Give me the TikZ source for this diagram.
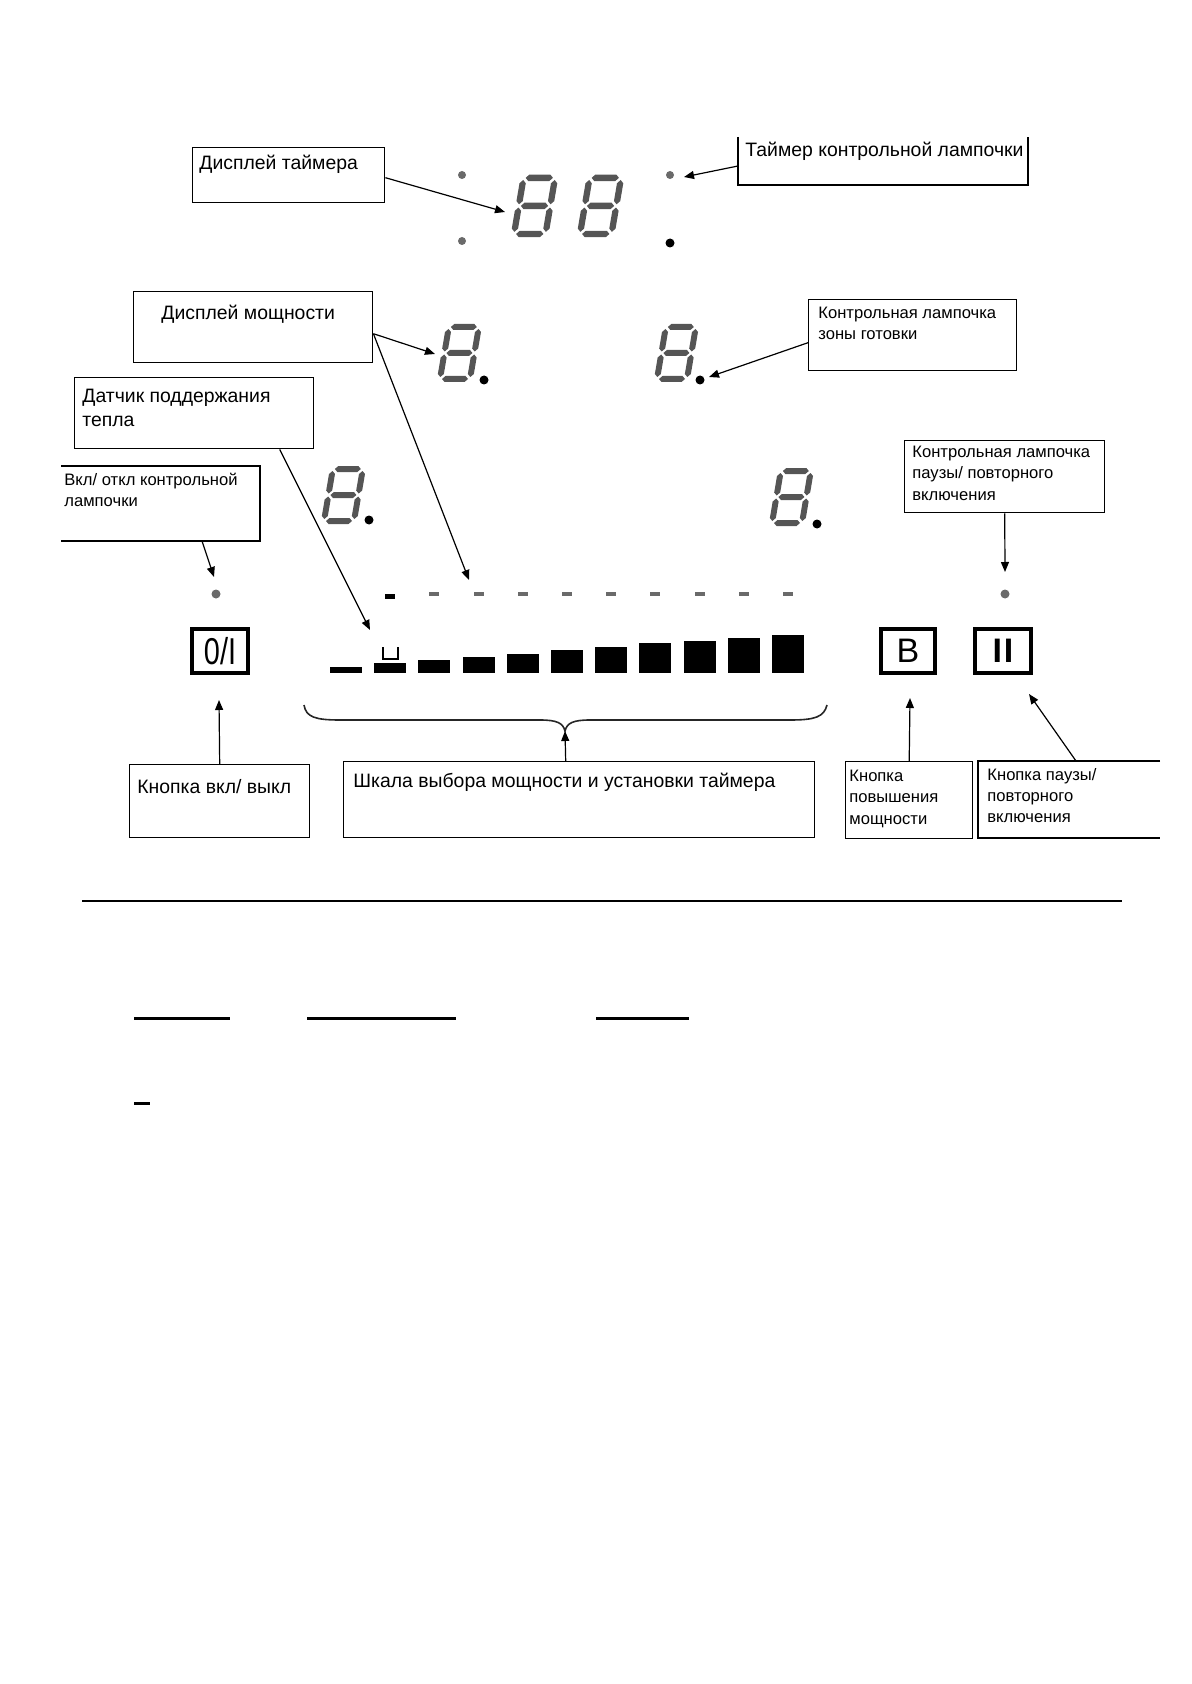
\documentclass[tikz,border=0pt]{standalone}
\usepackage{fontspec}
\setmainfont{Liberation Sans}
\usetikzlibrary{arrows.meta}
\definecolor{segc}{HTML}{555555}
\definecolor{dotg}{HTML}{6A6A6A}
\definecolor{dashg}{HTML}{6A6A6A}
\newcommand\hsegm[3]{\fill (#1,#3) -- ({#1+3},{#3-3}) -- ({#2-3},{#3-3}) -- (#2,#3) -- ({#2-3},{#3+3}) -- ({#1+3},{#3+3}) -- cycle;}
\newcommand\vsegm[3]{\fill (#1,#2) -- ({#1+3},{#2+3}) -- ({#1+3},{#3-3}) -- (#1,#3) -- ({#1-3},{#3-3}) -- ({#1-3},{#2+3}) -- cycle;}
\newcommand\segdig[4]{%
  \begin{scope}[shift={(#1,#2)},xslant=0.17,xscale=#3,yscale=#4,seg]
    \hsegm{2}{28}{-52}
    \vsegm{30}{-50}{-27.5}
    \vsegm{30}{-24.5}{-2}
    \hsegm{2}{28}{0}
    \vsegm{0}{-24.5}{-2}
    \vsegm{0}{-50}{-27.5}
    \hsegm{2}{28}{-26}
  \end{scope}}
\begin{document}
\begin{tikzpicture}[x=0.5pt,y=-0.5pt,
  bx/.style={draw,line width=0.7pt,inner sep=0pt,anchor=north west},
  openbox/.style={line width=0.7pt},
  btn/.style={draw,line width=1.6pt,inner sep=0pt,font=\fontsize{17}{17}\selectfont},
  arr/.style={line width=0.6pt,-{Triangle[length=5pt,width=4pt]}},
  lbl/.style={anchor=base west,inner sep=0pt,font=\fontsize{9.7}{12}\selectfont},
  lbls/.style={anchor=base west,inner sep=0pt,font=\fontsize{8.3}{10}\selectfont},
  seg/.style={fill=segc},
  gdot/.style={fill=dotg,draw=none},
  bdot/.style={fill=black,draw=none},
  bar/.style={fill=black,draw=none},
  ]
\useasboundingbox (0,0) rectangle (1191,1684);

% ---------- seven-segment digits ----------
\segdig{514}{234}{1.05}{1.08}
\segdig{580}{234}{1.05}{1.08}
\segdig{440}{379}{1.0}{1.0}
\segdig{657}{379}{1.0}{1.0}
\segdig{324}{521}{1.0}{1.0}
\segdig{772}{523}{1.0}{1.0}

% dots
\fill[gdot] (462,175) circle (4);
\fill[gdot] (462,241) circle (4);
\fill[gdot] (670,175) circle (4);
\fill[bdot] (670,243) circle (4.5);
\fill[bdot] (484,380) circle (4.5);
\fill[bdot] (700,380) circle (4.5);
\fill[bdot] (369,520) circle (4.5);
\fill[bdot] (817,524) circle (4.5);
\fill[gdot] (216,594) circle (4.5);
\fill[gdot] (1005,594) circle (4.5);

% dash row
\fill[black] (385,594) rectangle (395,599);
\foreach \i in {2,...,10} {
  \fill[dashg] ({346+44.2*\i-5},592) rectangle ({346+44.2*\i+5},596);
}

% power bars
\foreach \i/\h in {0/6,1/10,2/13,3/16.5,4/19.5,5/23,6/26.5,7/30,8/32.5,9/35.5,10/38.5} {
  \fill[bar] ({330+44.2*\i},673) rectangle ({362+44.2*\i},{673-\h});
}
\draw[line width=1pt] (383,647) -- (383,659) -- (398,659) -- (398,647);

% buttons
\node[btn,minimum width=28pt,minimum height=22pt] (bOI) at (220,651) {\scalebox{0.85}[1.1]{0/I}};
\node[btn,minimum width=27pt,minimum height=22pt] (bB) at (908,651) {B};
\node[btn,minimum width=28pt,minimum height=22pt] (bII) at (1003,651) {\textbf{I\kern1ptI}};

% brace
\draw[line width=0.8pt,draw=black!85] (304,705) .. controls (306,717) and (315,720) .. (340,720)
  -- (540,720) .. controls (557,720) and (563,723) .. (565,731)
  .. controls (567,723) and (573,720) .. (590,720) -- (790,720)
  .. controls (815,720) and (824,717) .. (827,705);

% ---------- labels ----------
% timer display
\node[bx,minimum width=96pt,minimum height=27.5pt] (bTD) at (192,147) {};
\node[lbl] (tTD) at (199,170) {Дисплей таймера};
\coordinate (dTD) at (505,212);
\draw[arr] ([yshift=-1.25pt]bTD.east) -- (dTD);

% timer lamp (open top)
\draw[openbox] (738,137) -- (738,185) -- (1028,185) -- (1028,137);
\coordinate (bTL) at (738,166);
\node[lbl] (tTL) at (745,157) {Таймер контрольной лампочки};
\coordinate (dTL) at (684,177);
\draw[arr] (bTL) -- (dTL);

% power display
\node[bx,minimum width=119.5pt,minimum height=35.5pt] (bPD) at (133,291) {};
\node[lbl] (tPD) at (161,320) {Дисплей мощности};
\coordinate (dPD1) at (435,354);
\coordinate (dPD2) at (469,580);
\draw[arr] ([yshift=-3.25pt]bPD.east) -- (dPD1);
\draw[arr] ([yshift=-3.25pt]bPD.east) -- (dPD2);

% zone lamp
\node[bx,minimum width=104pt,minimum height=35.5pt] (bZL) at (808,299) {};
\node[lbls] (tZL1) at (818,319) {Контрольная лампочка};
\node[lbls] (tZL2) at (818,340) {зоны готовки};
\coordinate (dZL) at (709,377);
\draw[arr] ([yshift=-3.75pt]bZL.west) -- (dZL);

% keep-warm sensor
\node[bx,minimum width=119.5pt,minimum height=35.5pt] (bDS) at (74,377) {};
\node[lbl] (tDS1) at (82,403) {Датчик поддержания};
\node[lbl] (tDS2) at (82,427) {тепла};
\coordinate (dDS) at (370,630);
\draw[arr] ([xshift=42.75pt]bDS.south) -- (dDS);

% on/off lamp (open left)
\draw[openbox] (61,466) -- (260,466) -- (260,541) -- (61,541);
\node[lbls] (tOL1) at (64,485) {Вкл/ откл контрольной};
\node[lbls] (tOL2) at (64,506) {лампочки};
\coordinate (bOL) at (202,541);
\coordinate (dOL) at (214,577);
\draw[arr] (bOL) -- (dOL);

% pause lamp
\node[bx,minimum width=100pt,minimum height=36pt] (bPL) at (904,440) {};
\node[lbls] (tPL1) at (912,458) {Контрольная лампочка};
\node[lbls] (tPL2) at (912,479) {паузы/ повторного};
\node[lbls] (tPL3) at (912,500) {включения};
\coordinate (dPL) at (1005,572);
\draw[arr] (bPL.south) -- (dPL);

% on/off button label
\node[bx,minimum width=90pt,minimum height=36.5pt] (bOn) at (129,764) {};
\node[lbl] (tOn) at (137,793) {Кнопка вкл/ выкл};
\coordinate (dOn) at (219,700);
\draw[arr] (bOn.north) -- (dOn);

% scale label
\node[bx,minimum width=235.5pt,minimum height=38pt] (bSc) at (343,761) {};
\node[lbl] (tSc) at (353,787) {Шкала выбора мощности и установки таймера};
\coordinate (dSc) at (565,731);
\draw[arr] ([xshift=-6.75pt]bSc.north) -- (dSc);

% boost button label
\node[bx,minimum width=63.5pt,minimum height=38.5pt] (bBo) at (845,761) {};
\node[lbls] (tBo1) at (849,781) {Кнопка};
\node[lbls] (tBo2) at (849,802) {повышения};
\node[lbls] (tBo3) at (849,824) {мощности};
\coordinate (dBo) at (910,698);
\draw[arr] (bBo.north) -- (dBo);

% pause button label (open right)
\draw[openbox] (1160,761) -- (978,761) -- (978,838) -- (1160,838);
\node[lbls] (tPB1) at (987,780) {Кнопка паузы/};
\node[lbls] (tPB2) at (987,801) {повторного};
\node[lbls] (tPB3) at (987,822) {включения};
\coordinate (bPB) at (1076,761);
\coordinate (dPB) at (1029,694);
\draw[arr] (bPB) -- (dPB);

% ---------- lower part ----------
\draw[line width=0.75pt] (82,901) -- (1122,901);
\draw[line width=1.5pt] (134,1018) -- (230,1018);
\draw[line width=1.5pt] (307,1018) -- (456,1018);
\draw[line width=1.5pt] (596,1018) -- (689,1018);
\draw[line width=1.5pt] (134,1103) -- (150,1103);
\end{tikzpicture}
\end{document}
